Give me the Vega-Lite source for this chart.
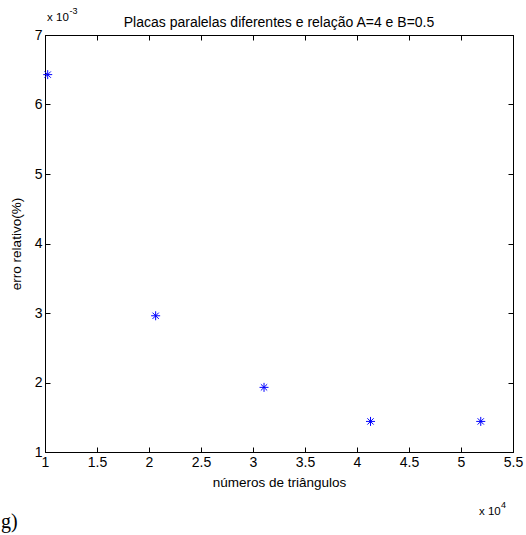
{
  "$schema": "https://vega.github.io/schema/vega-lite/v6.json",
  "width": 468,
  "height": 417,
  "autosize": {"type": "none"},
  "padding": {"left": 45, "top": 35, "right": 13, "bottom": 83},
  "background": "white",
  "title": {"text": "Placas paralelas diferentes e relação A=4 e B=0.5", "font": "Liberation Sans", "fontSize": 14, "fontWeight": "normal", "color": "black", "anchor": "middle", "offset": -23},
  "config": {
    "view": {"stroke": "black", "strokeWidth": 1},
    "axis": {"domainColor": "black", "tickColor": "black", "labelColor": "black", "titleColor": "black", "labelFont": "Liberation Sans", "titleFont": "Liberation Sans", "labelFontSize": 14, "titleFontSize": 13.5, "titleFontWeight": "normal", "grid": false, "tickSize": -5, "domainWidth": 1, "tickWidth": 1, "format": "~g"}
  },
  "data": {"values": [
    {"n": 10260, "erro": 6.43},
    {"n": 20640, "erro": 2.96},
    {"n": 31060, "erro": 1.93},
    {"n": 41300, "erro": 1.44},
    {"n": 51900, "erro": 1.44}
  ]},
  "layer": [
    {
      "transform": [{"calculate": "datum.n / 10000", "as": "nx"}, {"calculate": "datum.erro", "as": "ey"}],
      "mark": {"type": "point", "shape": "M-1,0L1,0M0,-1L0,1M-0.7,-0.7L0.7,0.7M-0.7,0.7L0.7,-0.7", "filled": false, "color": "#0000ff", "strokeWidth": 1, "size": 81, "opacity": 1},
      "encoding": {
        "x": {"field": "nx", "type": "quantitative", "scale": {"domain": [1, 5.5], "nice": false, "zero": false}, "axis": {"orient": "bottom", "values": [1, 1.5, 2, 2.5, 3, 3.5, 4, 4.5, 5, 5.5], "title": "números de triângulos", "labelPadding": 8, "titlePadding": 6, "labelFlush": false, "labelOverlap": false}},
        "y": {"field": "ey", "type": "quantitative", "scale": {"domain": [1, 7], "nice": false, "zero": false}, "axis": {"orient": "left", "values": [1, 2, 3, 4, 5, 6, 7], "title": "erro relativo(%)", "labelPadding": 8, "titlePadding": 11, "labelFlush": false, "labelOverlap": false}}
      }
    },
    {
      "transform": [{"calculate": "datum.n / 10000", "as": "nx"}],
      "mark": {"type": "point", "opacity": 0},
      "encoding": {
        "x": {"field": "nx", "type": "quantitative", "axis": {"orient": "top", "values": [1, 1.5, 2, 2.5, 3, 3.5, 4, 4.5, 5, 5.5], "labels": false, "title": null}},
        "y": {"field": "erro", "type": "quantitative", "axis": {"orient": "right", "values": [1, 2, 3, 4, 5, 6, 7], "labels": false, "title": null}}
      }
    },
    {
      "data": {"values": [{}]},
      "mark": {"type": "text", "align": "left", "baseline": "alphabetic", "font": "Liberation Sans", "fontSize": 11.5, "color": "black"},
      "encoding": {"x": {"datum": 1.02, "type": "quantitative", "axis": null}, "y": {"datum": 7.2, "type": "quantitative", "axis": null}, "text": {"value": "x 10"}}
    },
    {
      "data": {"values": [{}]},
      "mark": {"type": "text", "align": "left", "baseline": "alphabetic", "font": "Liberation Sans", "fontSize": 9, "color": "black"},
      "encoding": {"x": {"datum": 1.235, "type": "quantitative", "axis": null}, "y": {"datum": 7.295, "type": "quantitative", "axis": null}, "text": {"value": "-3"}}
    },
    {
      "data": {"values": [{}]},
      "mark": {"type": "text", "align": "left", "baseline": "alphabetic", "font": "Liberation Sans", "fontSize": 11.5, "color": "black"},
      "encoding": {"x": {"datum": 5.173, "type": "quantitative", "axis": null}, "y": {"datum": 0.094, "type": "quantitative", "axis": null}, "text": {"value": "x 10"}}
    },
    {
      "data": {"values": [{}]},
      "mark": {"type": "text", "align": "left", "baseline": "alphabetic", "font": "Liberation Sans", "fontSize": 9, "color": "black"},
      "encoding": {"x": {"datum": 5.385, "type": "quantitative", "axis": null}, "y": {"datum": 0.19, "type": "quantitative", "axis": null}, "text": {"value": "4"}}
    },
    {
      "data": {"values": [{}]},
      "mark": {"type": "text", "align": "left", "baseline": "alphabetic", "font": "Liberation Serif", "fontSize": 20, "color": "black"},
      "encoding": {"x": {"datum": 0.577, "type": "quantitative", "axis": null}, "y": {"datum": -0.09, "type": "quantitative", "axis": null}, "text": {"value": "g)"}}
    }
  ],
  "resolve": {"axis": {"x": "independent", "y": "independent"}}
}
